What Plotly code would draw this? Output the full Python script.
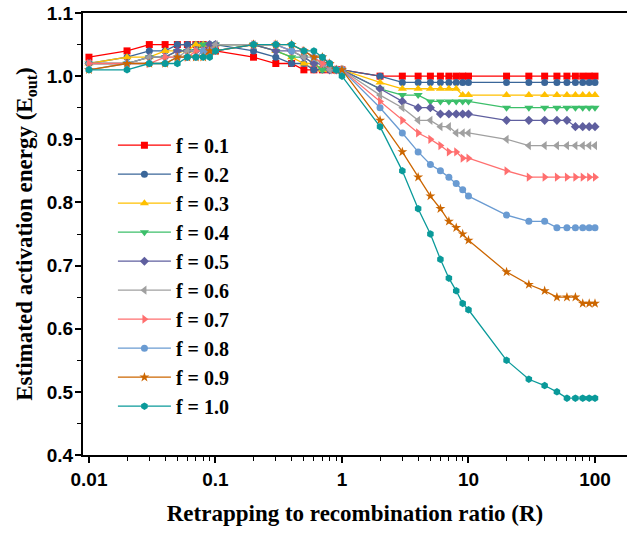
import plotly.graph_objects as go

R = [0.01, 0.02, 0.03, 0.04, 0.05, 0.06, 0.07, 0.08, 0.09,
     0.1, 0.2, 0.3, 0.4, 0.5, 0.6, 0.7, 0.8, 0.9,
     1, 2, 3, 4, 5, 6, 7, 8, 9,
     10, 20, 30, 40, 50, 60, 70, 80, 90,
     100]

f01 = [1.03, 1.04, 1.05, 1.05, 1.05, 1.05, 1.05, 1.05, 1.04,
       1.04, 1.03, 1.02, 1.02, 1.01, 1.01, 1.01, 1.01, 1.01,
       1.01, 1.00, 1.00, 1.00, 1.00, 1.00, 1.00, 1.00, 1.00,
       1.00, 1.00, 1.00, 1.00, 1.00, 1.00, 1.00, 1.00, 1.00,
       1.00]
f02 = [1.02, 1.03, 1.04, 1.04, 1.05, 1.05, 1.05, 1.05, 1.05,
       1.05, 1.04, 1.03, 1.02, 1.02, 1.01, 1.01, 1.01, 1.01,
       1.01, 1.00, 0.99, 0.99, 0.99, 0.99, 0.99, 0.99, 0.99,
       0.99, 0.99, 0.99, 0.99, 0.99, 0.99, 0.99, 0.99, 0.99,
       0.99]
f03 = [1.02, 1.03, 1.03, 1.04, 1.04, 1.04, 1.05, 1.05, 1.05,
       1.05, 1.05, 1.04, 1.03, 1.02, 1.02, 1.01, 1.01, 1.01,
       1.01, 0.99, 0.98, 0.98, 0.98, 0.98, 0.98, 0.98, 0.97,
       0.97, 0.97, 0.97, 0.97, 0.97, 0.97, 0.97, 0.97, 0.97,
       0.97]
f04 = [1.02, 1.02, 1.03, 1.03, 1.04, 1.04, 1.04, 1.05, 1.05,
       1.05, 1.05, 1.04, 1.03, 1.03, 1.02, 1.01, 1.01, 1.01,
       1.01, 0.98, 0.97, 0.97, 0.96, 0.96, 0.96, 0.96, 0.96,
       0.96, 0.95, 0.95, 0.95, 0.95, 0.95, 0.95, 0.95, 0.95,
       0.95]
f05 = [1.02, 1.02, 1.03, 1.03, 1.04, 1.04, 1.04, 1.04, 1.05,
       1.05, 1.05, 1.04, 1.04, 1.03, 1.02, 1.02, 1.01, 1.01,
       1.01, 0.98, 0.96, 0.95, 0.95, 0.94, 0.94, 0.94, 0.94,
       0.94, 0.93, 0.93, 0.93, 0.93, 0.93, 0.92, 0.92, 0.92,
       0.92]
f06 = [1.02, 1.02, 1.03, 1.03, 1.03, 1.04, 1.04, 1.04, 1.04,
       1.05, 1.05, 1.05, 1.04, 1.03, 1.03, 1.02, 1.01, 1.01,
       1.01, 0.97, 0.95, 0.93, 0.93, 0.92, 0.92, 0.91, 0.91,
       0.91, 0.90, 0.89, 0.89, 0.89, 0.89, 0.89, 0.89, 0.89,
       0.89]
f07 = [1.02, 1.02, 1.02, 1.03, 1.03, 1.03, 1.04, 1.04, 1.04,
       1.04, 1.05, 1.05, 1.04, 1.04, 1.03, 1.02, 1.02, 1.01,
       1.01, 0.96, 0.93, 0.91, 0.90, 0.89, 0.88, 0.88, 0.87,
       0.87, 0.85, 0.84, 0.84, 0.84, 0.84, 0.84, 0.84, 0.84,
       0.84]
f08 = [1.01, 1.02, 1.02, 1.02, 1.03, 1.03, 1.03, 1.04, 1.04,
       1.04, 1.05, 1.05, 1.04, 1.04, 1.03, 1.03, 1.02, 1.01,
       1.01, 0.95, 0.91, 0.88, 0.86, 0.85, 0.84, 0.83, 0.82,
       0.81, 0.78, 0.77, 0.77, 0.76, 0.76, 0.76, 0.76, 0.76,
       0.76]
f09 = [1.01, 1.02, 1.02, 1.02, 1.03, 1.03, 1.03, 1.03, 1.04,
       1.04, 1.05, 1.05, 1.05, 1.04, 1.03, 1.03, 1.02, 1.01,
       1.01, 0.93, 0.88, 0.84, 0.81, 0.79, 0.77, 0.76, 0.75,
       0.74, 0.69, 0.67, 0.66, 0.65, 0.65, 0.65, 0.64, 0.64,
       0.64]
f10 = [1.01, 1.01, 1.02, 1.02, 1.02, 1.03, 1.03, 1.03, 1.03,
       1.04, 1.05, 1.05, 1.05, 1.04, 1.04, 1.03, 1.02, 1.01,
       1.00, 0.92, 0.85, 0.79, 0.75, 0.71, 0.68, 0.66, 0.64,
       0.63, 0.55, 0.52, 0.51, 0.50, 0.49, 0.49, 0.49, 0.49,
       0.49]

names = ["f = 0.1", "f = 0.2", "f = 0.3", "f = 0.4", "f = 0.5",
         "f = 0.6", "f = 0.7", "f = 0.8", "f = 0.9", "f = 1.0"]
series = [f01, f02, f03, f04, f05, f06, f07, f08, f09, f10]
colors = ["#FF0000", "#3A6699", "#FFC000", "#3CBF6A", "#5F5F9F",
          "#A0A0A0", "#FF6F6F", "#6A9BD2", "#CC6600", "#0A9A9A"]
symbols = ["square", "circle", "triangle-up", "triangle-down", "diamond",
           "triangle-left", "triangle-right", "circle", "star", "hexagon"]
sizes = [7, 7, 8, 8, 7, 8, 8, 7, 7.5, 7.5]

fig = go.Figure()
for n, y, c, s, sz in zip(names, series, colors, symbols, sizes):
    fig.add_trace(go.Scatter(
        x=R, y=y, name=n, mode="lines+markers",
        line=dict(color=c, width=1.3),
        marker=dict(color=c, symbol=s, size=sz, line=dict(width=0)),
    ))

xmajor = [0.01, 0.1, 1, 10, 100]
xlabels = ["0.01", "0.1", "1", "10", "100"]
xminor = [m * 10 ** e for e in range(-2, 3) for m in range(2, 10)]
xminor = [v for v in xminor if v < 170]

tickfont = dict(family="Liberation Sans", size=19, color="black", weight="bold")
titlefont = dict(family="Liberation Serif", size=23, color="black", weight="bold")

fig.update_layout(
    width=627, height=533,
    margin=dict(l=83, r=0, t=13, b=78),
    paper_bgcolor="white", plot_bgcolor="white",
    showlegend=True,
    legend=dict(
        x=0.055, y=0.745, xanchor="left", yanchor="top",
        bgcolor="rgba(0,0,0,0)", borderwidth=0,
        font=dict(family="Liberation Serif", size=20, color="black", weight="bold"),
        tracegroupgap=0, itemwidth=53,
    ),
    xaxis=dict(
        type="log", range=[-2.047, 2.253], automargin=False,
        tickmode="array", tickvals=xmajor, ticktext=xlabels,
        ticks="outside", ticklen=6, tickwidth=1.5, tickcolor="black",
        showline=True, linecolor="black", linewidth=2, mirror=True,
        showgrid=False, zeroline=False,
        tickfont=tickfont,
        minor=dict(tickmode="array", tickvals=xminor, ticks="outside",
                   ticklen=4, tickwidth=1.2, tickcolor="black", showgrid=False),
        title=dict(text="Retrapping to recombination ratio (R)", font=titlefont,
                   standoff=16),
    ),
    yaxis=dict(
        range=[0.4, 1.1], automargin=False,
        tickmode="linear", tick0=0.4, dtick=0.1, tickformat=".1f",
        ticks="outside", ticklen=6, tickwidth=1.5, tickcolor="black",
        ticklabelstandoff=-2,
        showline=True, linecolor="black", linewidth=2, mirror=False,
        showgrid=False, zeroline=False,
        tickfont=tickfont,
        minor=dict(tick0=0.45, dtick=0.1, ticks="outside",
                   ticklen=4, tickwidth=1.2, tickcolor="black", showgrid=False),
        title=dict(text="Estimated activation energy (E<sub>out</sub>)", font=titlefont,
                   standoff=8),
    ),
)

fig.write_html("out.html", config={"displayModeBar": False},
               post_script="document.body.style.margin='0';")
